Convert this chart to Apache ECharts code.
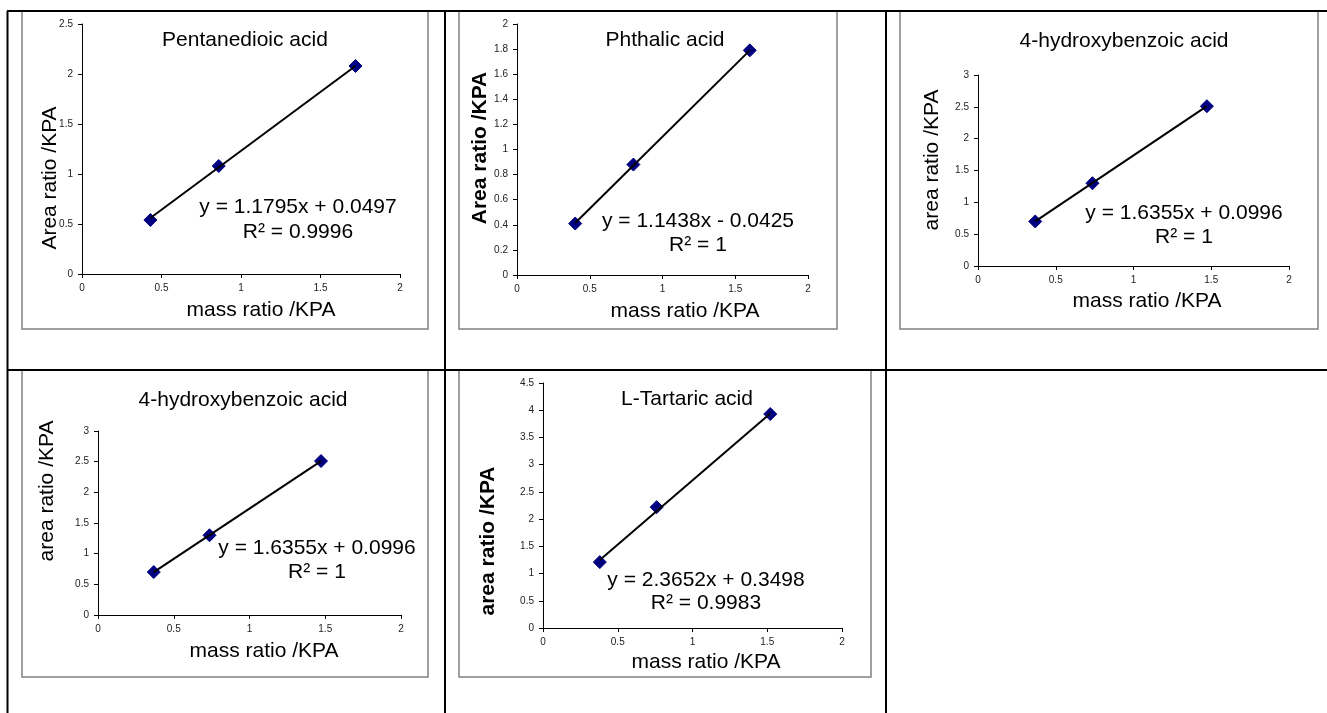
<!DOCTYPE html>
<html>
<head>
<meta charset="utf-8">
<script src="https://cdn.jsdelivr.net/npm/echarts@6/dist/echarts.min.js"></script>
<style>
    html, body { margin: 0; padding: 0; background: #fff; }
    #main { width: 1327px; height: 713px; }
</style>
</head>
<body>
<div id="main"></div>
<script>
// calibration data
const titles = ["Pentanedioic acid", "Phthalic acid", "4-hydroxybenzoic acid", "4-hydroxybenzoic acid", "L-Tartaric acid"];
const yNames = ["Area ratio /KPA", "Area ratio /KPA", "area ratio /KPA", "area ratio /KPA", "area ratio /KPA"];
const xName = "mass ratio /KPA";
const equations = ["y = 1.1795x + 0.0497", "y = 1.1438x - 0.0425", "y = 1.6355x + 0.0996", "y = 1.6355x + 0.0996", "y = 2.3652x + 0.3498"];
const r2Texts = ["R² = 0.9996", "R² = 1", "R² = 1", "R² = 1", "R² = 0.9983"];

const pentX = [0.43, 0.86, 1.72];
const pentY = [0.54, 1.08, 2.08];
const phthX = [0.40, 0.80, 1.60];
const phthY = [0.41, 0.88, 1.79];
const hbaX = [0.368, 0.736, 1.472];
const hbaY = [0.70, 1.30, 2.51];
const tartX = [0.38, 0.76, 1.52];
const tartY = [1.21, 2.22, 3.93];

// trendline end points (first x, last x)
const pentTrend = [0.56, 2.08];
const phthTrend = [0.415, 1.79];
const hbaTrend = [0.70, 2.51];
const tartTrend = [1.25, 3.94];

// axes
const xMax = 2, xStep = 0.5;
const yMax = [2.5, 2, 3, 3, 4.5];
const yStep = [0.5, 0.2, 0.5, 0.5, 0.5];

const seriesX = [pentX, phthX, hbaX, hbaX, tartX];
const seriesY = [pentY, phthY, hbaY, hbaY, tartY];
const trends = [pentTrend, phthTrend, hbaTrend, hbaTrend, tartTrend];

// layout of each panel (pixels)
const panels = [
    { grid: { left: 82, top: 24, width: 318, height: 250 }, box: [22, 11, 406, 318], title: [245, 40], eq: [298, 207, 232], xn: [261, 310], yn: [50, 178], bold: false },
    { grid: { left: 517, top: 24, width: 291, height: 251 }, box: [459, 11, 378, 318], title: [665, 40], eq: [698, 221, 245], xn: [685, 311], yn: [480, 148], bold: true },
    { grid: { left: 978, top: 75, width: 311, height: 191 }, box: [900, 11, 418, 318], title: [1124, 41], eq: [1184, 213, 237], xn: [1147, 301], yn: [932, 160], bold: false },
    { grid: { left: 98, top: 431, width: 303, height: 184 }, box: [22, 370, 406, 307], title: [243, 400], eq: [317, 548, 572], xn: [264, 651], yn: [47, 491], bold: false },
    { grid: { left: 543, top: 383, width: 299, height: 245 }, box: [459, 370, 412, 307], title: [687, 399], eq: [706, 580, 603], xn: [706, 662], yn: [488, 541], bold: true }
];

const FONT = "Liberation Sans, Arial, sans-serif";

function txt(x, y, text, opt) {
    opt = opt || {};
    return {
        type: "text", x: x, y: y, rotation: opt.rot || 0, z: 100,
        style: {
            text: text, x: 0, y: 0,
            font: (opt.bold ? "bold " : "") + "21px " + FONT,
            fill: "#000",
            textAlign: "center", textVerticalAlign: "middle",
            align: "center", verticalAlign: "middle"
        }
    };
}

function axisCommon() {
    return {
        type: "value", min: 0,
        splitLine: { show: false },
        axisLine: { show: true, lineStyle: { color: "#000", width: 1 } },
        axisTick: { show: true, inside: false, length: 4, lineStyle: { color: "#000" } },
        axisLabel: { fontSize: 10, color: "#222", fontFamily: FONT, margin: 9 }
    };
}

let grids = [], xAxes = [], yAxes = [], series = [], graphics = [];

// table lines
const tableLines = [
    [7, 11, 1327, 11], [7, 370, 1327, 370],
    [7.5, 11, 7.5, 713], [445, 11, 445, 713], [886, 11, 886, 713]
];
tableLines.forEach(l => {
    graphics.push({ type: "line", z: 110, shape: { x1: l[0], y1: l[1], x2: l[2], y2: l[3] }, style: { stroke: "#000", lineWidth: 2 } });
});

panels.forEach((p, i) => {
    grids.push(Object.assign({ outerBoundsMode: "none" }, p.grid));
    xAxes.push(Object.assign(axisCommon(), { gridIndex: i, max: xMax, interval: xStep }));
    yAxes.push(Object.assign(axisCommon(), { gridIndex: i, max: yMax[i], interval: yStep[i] }));

    const xs = seriesX[i], ys = seriesY[i];
    series.push({
        type: "scatter", xAxisIndex: i, yAxisIndex: i, z: 3,
        symbol: "diamond", symbolSize: 13,
        itemStyle: { color: "#000080", opacity: 1, borderColor: "#000080", borderWidth: 1 },
        data: xs.map((x, k) => [x, ys[k]])
    });
    series.push({
        type: "line", xAxisIndex: i, yAxisIndex: i, z: 4,
        showSymbol: false, symbol: "none",
        lineStyle: { color: "#000", width: 2 },
        data: [[xs[0], trends[i][0]], [xs[xs.length - 1], trends[i][1]]]
    });

    // chart frame
    graphics.push({ type: "rect", z: 50, shape: { x: p.box[0], y: p.box[1], width: p.box[2], height: p.box[3] }, style: { fill: "none", stroke: "#808080", lineWidth: 1.5 } });

    graphics.push(txt(p.title[0], p.title[1], titles[i]));
    graphics.push(txt(p.eq[0], p.eq[1], equations[i]));
    graphics.push(txt(p.eq[0], p.eq[2], r2Texts[i]));
    graphics.push(txt(p.xn[0], p.xn[1], xName));
    graphics.push(txt(p.yn[0], p.yn[1], yNames[i], { rot: Math.PI / 2, bold: p.bold }));
});

const chart = echarts.init(document.getElementById("main"));
chart.setOption({
    animation: false,
    backgroundColor: "#fff",
    grid: grids,
    xAxis: xAxes,
    yAxis: yAxes,
    series: series,
    graphic: { elements: graphics }
});
</script>
</body>
</html>
